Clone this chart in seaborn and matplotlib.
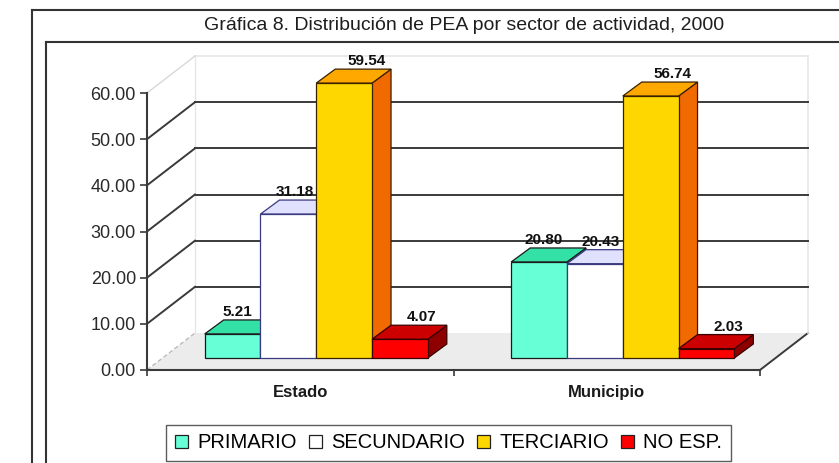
import numpy as np
import pandas as pd
import matplotlib
matplotlib.use("Agg")
import matplotlib.pyplot as plt
import seaborn as sns
from matplotlib.patches import Polygon, Patch, Rectangle
from matplotlib.lines import Line2D
from matplotlib.ticker import FormatStrFormatter

# ---------------- data ----------------
regions = ["Estado", "Municipio"]
sectors = ["PRIMARIO", "SECUNDARIO", "TERCIARIO", "NO ESP."]
estado = [5.21, 31.18, 59.54, 4.07]
municipio = [20.80, 20.43, 56.74, 2.03]
yticks = [0, 10, 20, 30, 40, 50, 60]
title = "Gráfica 8. Distribución de PEA por sector de actividad, 2000"

face_colors = ["#66FFD6", "#FFFFFF", "#FFD700", "#FF0000"]
top_colors = ["#33E0A6", "#E0E0FF", "#FFA800", "#CC0000"]
side_colors = ["#22B088", "#C0C0E8", "#F06A00", "#8E0000"]
edge_colors = ["#1A1A1A", "#3A3A80", "#3A2000", "#3A0000"]
label_dx_px = [5, 6, 22, 22]

df = pd.DataFrame({
    "region": [r for r in regions for _ in sectors],
    "sector": sectors * len(regions),
    "value": estado + municipio,
})

plt.rcParams["font.family"] = ["Liberation Sans", "DejaVu Sans"]

W, H = 839, 463
fig = plt.figure(figsize=(W / 100, H / 100), dpi=100)
fig.patch.set_facecolor("white")

def fx(px):
    return px / W

def fy(py):
    return 1 - py / H

# front plane of the 3-D box
ax = fig.add_axes([fx(147), fy(370), (760 - 147) / W, (370 - 93) / H])
ax.set_facecolor("none")

sns.barplot(data=df, x="region", y="value", hue="sector", hue_order=sectors,
            order=regions, palette=face_colors, saturation=1, width=0.728,
            gap=0, errorbar=None, legend=False, linewidth=0.9,
            edgecolor="#222222", ax=ax)
bar_patches = [p for p in ax.patches if isinstance(p, Rectangle)]

ax.set_xlim(-0.5, len(regions) - 0.5)
ax.set_ylim(0, 60)
xmin, xmax = ax.get_xlim()

def px2data(dxp, dyp):
    o = ax.transData.transform((0, 0))
    p = ax.transData.inverted().transform(o + np.array([dxp, dyp]))
    return p[0], p[1]

WX, WY = px2data(48, 37)   # full depth of the box
BX, BY = px2data(16, 12)   # bar plane offset
DX, DY = px2data(19, 14)   # bar depth

light = "#D8D8D8"
dark = "#3A3A3A"

# floor
ax.add_patch(Polygon([(xmin, 0), (xmax, 0), (xmax + WX, WY), (xmin + WX, WY)],
                     closed=True, facecolor="#ECECEC", edgecolor="none",
                     zorder=0.5, clip_on=False))
ax.plot([xmax, xmax + WX], [0, WY], color=dark, lw=1.4, zorder=0.6, clip_on=False)

# back wall outline
ax.plot([xmin + WX, xmax + WX], [60 + WY, 60 + WY], color="#E6E6E6", lw=1.2, zorder=0.6, clip_on=False)
ax.plot([xmax + WX, xmax + WX], [WY, 60 + WY], color="#E6E6E6", lw=1.2, zorder=0.6, clip_on=False)
ax.plot([xmin + WX, xmin + WX], [WY, 60 + WY], color="#E6E6E6", lw=1.0, zorder=0.6, clip_on=False)

# gridlines on back wall and left wall
for v in yticks:
    if v == 0:
        ax.plot([xmin, xmin + WX], [v, v + WY], color="#BBBBBB", lw=1.0,
                ls=(0, (3, 2)), zorder=0.7, clip_on=False)
    elif v == yticks[-1]:
        ax.plot([xmin, xmin + WX], [v, v + WY], color=light, lw=1.0, zorder=0.7, clip_on=False)
    else:
        ax.plot([xmin + WX, xmax + WX], [v + WY, v + WY], color=dark, lw=1.4, zorder=0.7, clip_on=False)
        ax.plot([xmin, xmin + WX], [v, v + WY], color=dark, lw=1.4, zorder=0.7, clip_on=False)

# 3-D bars built from the seaborn patches
bars = sorted(bar_patches, key=lambda p: p.get_x())
bars = [p for p in bars if p.get_width() > 0 and p.get_height() > 0]
for k, p in enumerate(bars):
    s = k % len(sectors)
    x0 = p.get_x() + BX
    w = p.get_width()
    h = p.get_height()
    p.set_x(x0)
    p.set_y(BY)
    p.set_edgecolor(edge_colors[s])
    p.set_clip_on(False)
    yb, yt = BY, BY + h
    x1 = x0 + w
    z = 2 + k * 0.1
    side = Polygon([(x1, yb), (x1, yt), (x1 + DX, yt + DY), (x1 + DX, yb + DY)],
                   closed=True, facecolor=side_colors[s], edgecolor=edge_colors[s],
                   lw=0.9, zorder=z, clip_on=False)
    top = Polygon([(x0, yt), (x1, yt), (x1 + DX, yt + DY), (x0 + DX, yt + DY)],
                  closed=True, facecolor=top_colors[s], edgecolor=edge_colors[s],
                  lw=0.9, zorder=z + 0.01, clip_on=False)
    ax.add_patch(side)
    ax.add_patch(top)
    p.set_zorder(z + 0.02)
    ax.annotate(f"{h:.2f}", (x0 + w / 2, yt + DY), xytext=(label_dx_px[s], 8),
                textcoords="offset pixels", ha="center", va="center",
                fontsize=11, fontweight="bold", color="#111111", zorder=5,
                annotation_clip=False)

# axes styling
for sp in ["top", "right"]:
    ax.spines[sp].set_visible(False)
for sp in ["left", "bottom"]:
    ax.spines[sp].set_color(dark)
    ax.spines[sp].set_linewidth(1.5)
    ax.spines[sp].set_zorder(1)

ax.set_yticks(yticks)
ax.yaxis.set_major_formatter(FormatStrFormatter("%.2f"))
ax.tick_params(axis="y", length=5, width=1.2, color=dark, labelsize=13,
               labelcolor="#2A2A2A", pad=3)
ax.set_xticks(range(len(regions)))
ax.set_xticklabels(regions, fontsize=12, fontweight="bold", color="#1A1A1A")
ax.tick_params(axis="x", length=0, pad=11)
ax.set_xticks([xmin, 0.5, xmax], minor=True)
ax.tick_params(axis="x", which="minor", length=4, width=1.2, color=dark)
ax.set_xlabel("")
ax.set_ylabel("")

# legend
handles = [Patch(facecolor=c, edgecolor="#222222", linewidth=0.9) for c in face_colors]
leg = fig.legend(handles, sectors, loc="center",
                 bbox_to_anchor=(fx((163 + 734) / 2), fy((424 + 462) / 2)),
                 ncol=4, fontsize=14.5, frameon=True, fancybox=False,
                 edgecolor="#333333", handlelength=0.66, handleheight=0.66,
                 handletextpad=0.45, columnspacing=0.6, borderpad=0.42)
leg.get_frame().set_linewidth(1.0)

# frames and title
lc = "#333333"
fig.add_artist(Line2D([fx(32), fx(32)], [fy(10), fy(H + 5)], color=lc, lw=1.5, transform=fig.transFigure))
fig.add_artist(Line2D([fx(32), fx(W + 5)], [fy(10), fy(10)], color=lc, lw=1.5, transform=fig.transFigure))
fig.add_artist(Line2D([fx(46), fx(46)], [fy(42), fy(H + 5)], color=lc, lw=1.5, transform=fig.transFigure))
fig.add_artist(Line2D([fx(46), fx(W + 5)], [fy(42), fy(42)], color=lc, lw=1.5, transform=fig.transFigure))
fig.text(fx(464), fy(26), title, ha="center", va="center", fontsize=14, color="#1E1E1E")

fig.savefig("out.png", dpi=100, facecolor="white")
